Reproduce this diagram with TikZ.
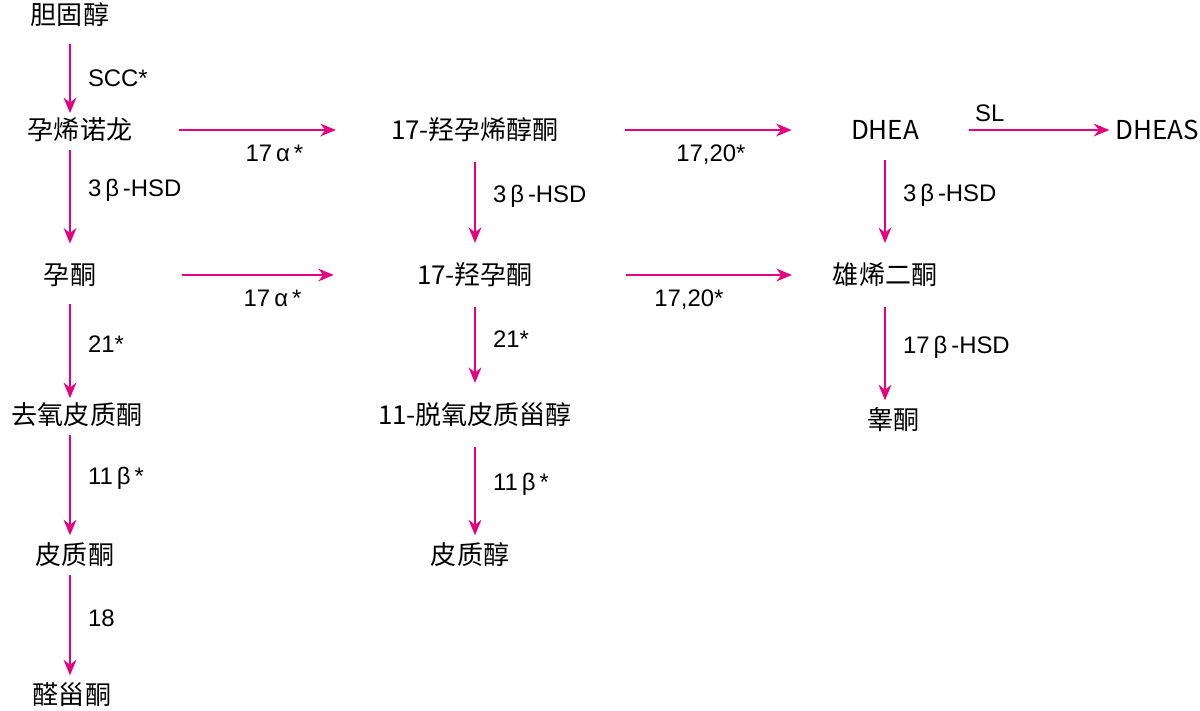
\documentclass[tikz,border=0pt]{standalone}
\usepackage{fontspec}
\setmainfont{Liberation Sans}
\newfontfamily\cjk{Noto Sans CJK SC}
\usepackage{xcolor}
\usetikzlibrary{arrows.meta,positioning}
\definecolor{pathpink}{HTML}{E6007E}
\begin{document}
\begin{tikzpicture}[
    x=0.025cm, y=-0.025cm,
    every node/.style={font=\fontsize{17}{20}\selectfont},
    mol/.style={inner sep=0pt, font=\cjk\fontsize{18.5}{20}\selectfont},
    step arrow/.style={draw=pathpink, line width=1.6pt, -{Stealth[length=11pt,width=9pt]}},
    enz/.style={inner sep=2pt},
]
    \useasboundingbox (0,0) rectangle (1200,710);

    % Column 1
    \node[mol] (chol) at (70,15) {胆固醇};
    \node[mol] (preg) at (80,130) {孕烯诺龙};
    \node[mol] (prog) at (70,275) {孕酮};
    \node[mol] (doc) at (77,415) {去氧皮质酮};
    \node[mol] (cort) at (75,555) {皮质酮};
    \node[mol] (aldo) at (72,695) {醛甾酮};

    % Column 2
    \node[mol] (ohpreg) at (475,130) {17-羟孕烯醇酮};
    \node[mol] (ohprog) at (475,275) {17-羟孕酮};
    \node[mol] (deoxy) at (475,415) {11-脱氧皮质甾醇};
    \node[mol] (cortisol) at (470,555) {皮质醇};

    % Column 3
    \node[mol] (dhea) at (885,130) {DHEA};
    \node[mol] (dheas) at (1157,130) {DHEAS};
    \node[mol] (andro) at (885,275) {雄烯二酮};
    \node[mol] (testo) at (893,420) {睾酮};

    % Vertical steps
    \draw[step arrow, shorten <=12pt, shorten >=12pt] (chol) -- node[enz, right=10pt] {SCC*} (preg -| chol);
    \draw[step arrow, shorten <=14pt, shorten >=14pt] (preg -| prog) -- node[enz, right=10pt, pos=0.45] {3\,β\,-HSD} (prog);
    \draw[step arrow, shorten <=12pt, shorten >=12pt] (prog) -- node[enz, right=10pt, pos=0.45] {21*} (doc -| prog);
    \draw[step arrow, shorten <=14pt, shorten >=14pt] (doc -| prog) -- node[enz, right=10pt, pos=0.45] {11\,β\,*} (cort -| prog);
    \draw[step arrow, shorten <=14pt, shorten >=14pt] (cort -| prog) -- node[enz, right=10pt, pos=0.45] {18} (aldo -| prog);

    \draw[step arrow, shorten <=14pt, shorten >=14pt] (ohpreg) -- node[enz, right=10pt, pos=0.45] {3\,β\,-HSD} (ohprog);
    \draw[step arrow, shorten <=14pt, shorten >=14pt] (ohprog) -- node[enz, right=10pt, pos=0.45] {21*} (deoxy);
    \draw[step arrow, shorten <=14pt, shorten >=14pt] (deoxy) -- node[enz, right=10pt, pos=0.45] {11\,β\,*} (cortisol -| deoxy);

    \draw[step arrow, shorten <=14pt, shorten >=14pt] (dhea) -- node[enz, right=10pt, pos=0.45] {3\,β\,-HSD} (andro);
    \draw[step arrow, shorten <=14pt, shorten >=14pt] (andro) -- node[enz, right=10pt, pos=0.45] {17\,β\,-HSD} (testo -| andro);

    % Horizontal steps
    \draw[step arrow, shorten <=33pt, shorten >=39pt] (preg) -- node[enz, below=8pt, pos=0.55] {17\,α\,*} (ohpreg);
    \draw[step arrow, shorten <=47pt, shorten >=42pt] (ohpreg) -- node[enz, below=8pt, pos=0.52] {17,20*} (dhea);
    \draw[step arrow, shorten <=61pt, shorten >=59pt] (prog) -- node[enz, below=8pt, pos=0.55] {17\,α\,*} (ohprog);
    \draw[step arrow, shorten <=66pt, shorten >=29pt] (ohprog) -- node[enz, below=8pt, pos=0.52] {17,20*} (andro);
    \draw[step arrow, shorten <=35pt, shorten >=4pt] (dhea) -- node[enz, above=3pt, pos=0.36] {SL} (dheas);
\end{tikzpicture}
\end{document}
